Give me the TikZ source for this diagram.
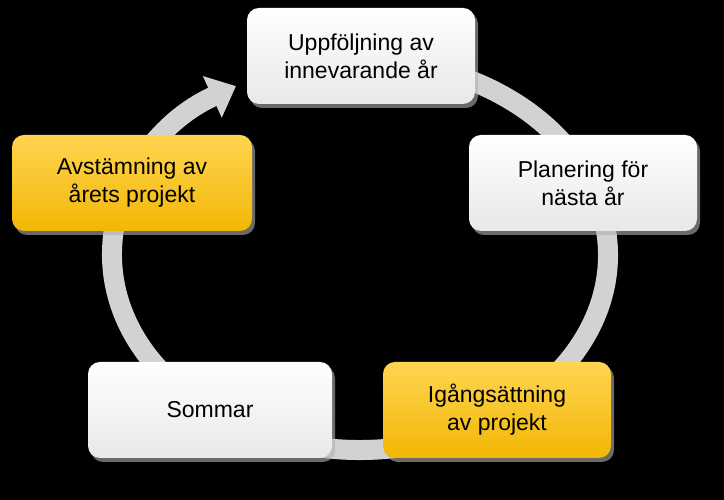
\documentclass[tikz,border=0pt]{standalone}
\usepackage{fontspec}
\setmainfont{Liberation Sans}
\usetikzlibrary{arrows.meta,shadows}
\definecolor{ylw}{HTML}{F2B705}
\definecolor{ylwl}{HTML}{FFD451}
\tikzset{
 box/.style={rounded corners=12pt, minimum width=228pt, minimum height=96pt, align=center,
   font=\fontsize{23}{28}\selectfont, text=black, drop shadow={shadow xshift=3pt,shadow yshift=-4pt,fill=gray!60,opacity=.6}},
 wbox/.style={box, top color=white, bottom color=gray!18},
 ybox/.style={box, top color=ylwl, bottom color=ylw},
 ring/.style={line width=20pt, gray!35}
}
\begin{document}
\begin{tikzpicture}[x=1pt,y=1pt]
\fill[black] (0,0) rectangle (724,500);
\useasboundingbox (0,0) rectangle (724,500);
\coordinate (c) at (360,245);
\draw[ring, -{Triangle[width=44pt,length=26pt]}] (c) ++(97:248 and 195) arc[start angle=457, end angle=120, x radius=248, y radius=195];
\node[wbox] (a) at (361,444) {Uppföljning av\\innevarande år};
\node[wbox] (b) at (583,317) {Planering för\\nästa år};
\node[ybox] (d) at (497,90) {Igångsättning\\av projekt};
\node[wbox, minimum width=244pt] (e) at (210,90) {Sommar};
\node[ybox, minimum width=240pt] (f) at (132,317) {Avstämning av\\årets projekt};
\end{tikzpicture}
\end{document}
